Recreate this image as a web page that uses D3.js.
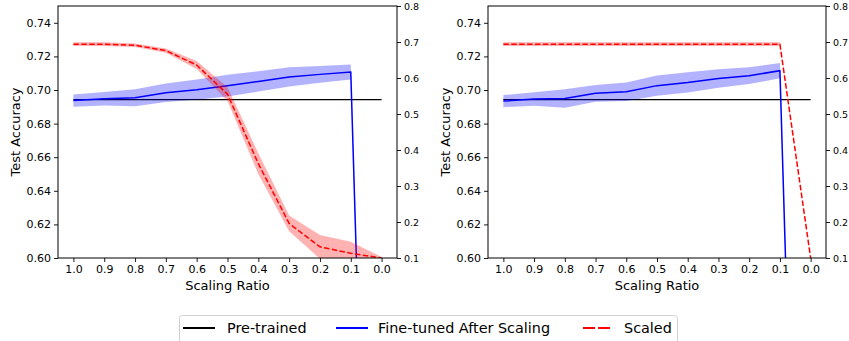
<!DOCTYPE html>
<html>
<head>
<meta charset="utf-8">
<script src="https://cdn.jsdelivr.net/npm/d3@7"></script>
<style>
  html, body { margin: 0; padding: 0; background: #fff; }
  svg { display: block; font-family: "DejaVu Sans", sans-serif; }
</style>
</head>
<body>
<svg id="chart" width="849" height="341"></svg>
<script>
// scaling ratios on the x axis
const ratios = [1.0, 0.9, 0.8, 0.7, 0.6, 0.5, 0.4, 0.3, 0.2, 0.1, 0.0];
const xTicks = [1.0, 0.9, 0.8, 0.7, 0.6, 0.5, 0.4, 0.3, 0.2, 0.1, 0.0];
const accTicks = [0.60, 0.62, 0.64, 0.66, 0.68, 0.70, 0.72, 0.74];
const scaledTicks = [0.1, 0.2, 0.3, 0.4, 0.5, 0.6, 0.7, 0.8];

// pre-trained accuracy (left axis)
const pretrained = [0.6943, 0.6943, 0.6943, 0.6943, 0.6943, 0.6943, 0.6943, 0.6943, 0.6943, 0.6943, 0.6943];

// left panel
const leftFinetunedMean = [0.6937, 0.6948, 0.6954, 0.6984, 0.7002, 0.7026, 0.7051, 0.7078, 0.7093, 0.7107, 0.1000];
const leftFinetunedStd  = [0.0036, 0.0040, 0.0050, 0.0055, 0.0060, 0.0065, 0.0060, 0.0057, 0.0050, 0.0045, 0.0020];
const leftScaledMean    = [0.694, 0.694, 0.691, 0.676, 0.636, 0.555, 0.362, 0.196, 0.131, 0.113, 0.100];
const leftScaledStd     = [0.005, 0.005, 0.005, 0.006, 0.011, 0.019, 0.029, 0.022, 0.033, 0.032, 0.003];

// right panel
const rightFinetunedMean = [0.6934, 0.6946, 0.6950, 0.6980, 0.6990, 0.7026, 0.7045, 0.7069, 0.7085, 0.7115, 0.1000];
const rightFinetunedStd  = [0.0036, 0.0040, 0.0055, 0.0050, 0.0055, 0.0060, 0.0060, 0.0055, 0.0050, 0.0045, 0.0020];
const rightScaledMean    = [0.694, 0.694, 0.694, 0.694, 0.694, 0.694, 0.694, 0.694, 0.694, 0.694, 0.100];
const rightScaledStd     = [0.005, 0.005, 0.005, 0.005, 0.005, 0.005, 0.005, 0.005, 0.005, 0.005, 0.000];

const panels = [
  { left: 58, right: 397, labelX: 15, ft: leftFinetunedMean, ftStd: leftFinetunedStd, sc: leftScaledMean, scStd: leftScaledStd },
  { left: 488, right: 826, labelX: 445, ft: rightFinetunedMean, ftStd: rightFinetunedStd, sc: rightScaledMean, scStd: rightScaledStd },
];

const plotTop = 6;
const plotBottom = 258;
const svg = d3.select('#chart');

function styleAxis(group, fontSize) {
  group.select('.domain').remove();
  group.selectAll('line').attr('stroke', '#000').attr('stroke-width', 0.9);
  group.selectAll('text').attr('fill', '#000').attr('font-size', fontSize)
    .attr('font-family', '"DejaVu Sans", sans-serif');
}

panels.forEach((p, i) => {
  const x = d3.scaleLinear().domain([1.05, -0.05]).range([p.left, p.right]);
  const yAcc = d3.scaleLinear().domain([0.60, 0.75]).range([plotBottom, plotTop]);
  const yScaled = d3.scaleLinear().domain([0.1, 0.8]).range([plotBottom, plotTop]);

  const clipId = `clip-${i}`;
  svg.append('clipPath').attr('id', clipId)
    .append('rect')
    .attr('x', p.left).attr('y', plotTop)
    .attr('width', p.right - p.left).attr('height', plotBottom - plotTop);

  const plot = svg.append('g').attr('clip-path', `url(#${clipId})`);

  // pre-trained
  plot.append('path')
    .datum(ratios.map((r, k) => [r, pretrained[k]]))
    .attr('fill', 'none').attr('stroke', '#000').attr('stroke-width', 1.2)
    .attr('d', d3.line().x(d => x(d[0])).y(d => yAcc(d[1])));

  // fine-tuned band + line
  plot.append('path')
    .datum(ratios.map((r, k) => [r, p.ft[k] - p.ftStd[k], p.ft[k] + p.ftStd[k]]))
    .attr('fill', 'rgba(0,0,255,0.3)').attr('stroke', 'none')
    .attr('d', d3.area().x(d => x(d[0])).y0(d => yAcc(d[1])).y1(d => yAcc(d[2])));
  plot.append('path')
    .datum(ratios.map((r, k) => [r, p.ft[k]]))
    .attr('fill', 'none').attr('stroke', '#0000ff').attr('stroke-width', 1.5)
    .attr('d', d3.line().x(d => x(d[0])).y(d => yAcc(d[1])));

  // scaled (twin axis) band + dashed line
  plot.append('path')
    .datum(ratios.map((r, k) => [r, p.sc[k] - p.scStd[k], p.sc[k] + p.scStd[k]]))
    .attr('fill', 'rgba(255,0,0,0.3)').attr('stroke', 'none')
    .attr('d', d3.area().x(d => x(d[0])).y0(d => yScaled(d[1])).y1(d => yScaled(d[2])));
  plot.append('path')
    .datum(ratios.map((r, k) => [r, p.sc[k]]))
    .attr('fill', 'none').attr('stroke', '#ff0000').attr('stroke-width', 1.5)
    .attr('stroke-dasharray', '5.5 2.4')
    .attr('d', d3.line().x(d => x(d[0])).y(d => yScaled(d[1])));

  // axes
  svg.append('g').attr('transform', `translate(0,${plotBottom})`)
    .call(d3.axisBottom(x).tickValues(xTicks).tickFormat(d3.format('.1f')).tickSize(4).tickPadding(3))
    .call(g => styleAxis(g, 11));
  svg.append('g').attr('transform', `translate(${p.left},0)`)
    .call(d3.axisLeft(yAcc).tickValues(accTicks).tickFormat(d3.format('.2f')).tickSize(4).tickPadding(3))
    .call(g => styleAxis(g, 11));
  svg.append('g').attr('transform', `translate(${p.right},0)`)
    .call(d3.axisRight(yScaled).tickValues(scaledTicks).tickFormat(d3.format('.1f')).tickSize(4).tickPadding(3))
    .call(g => styleAxis(g, 9.5));

  // frame
  svg.append('rect')
    .attr('x', p.left).attr('y', plotTop)
    .attr('width', p.right - p.left).attr('height', plotBottom - plotTop)
    .attr('fill', 'none').attr('stroke', '#000').attr('stroke-width', 1);

  // labels
  svg.append('text')
    .attr('x', (p.left + p.right) / 2).attr('y', 290)
    .attr('text-anchor', 'middle').attr('font-size', 13).attr('fill', '#000')
    .text('Scaling Ratio');
  svg.append('text')
    .attr('transform', `translate(${p.labelX + 5},${(plotTop + plotBottom) / 2}) rotate(-90)`)
    .attr('text-anchor', 'middle').attr('font-size', 13).attr('fill', '#000')
    .text('Test Accuracy');
});

// legend
const legendItems = [
  { label: 'Pre-trained', color: '#000', dash: null, x: 183, len: 32, tx: 227 },
  { label: 'Fine-tuned After Scaling', color: '#0000ff', dash: null, x: 336, len: 32, tx: 378 },
  { label: 'Scaled', color: '#ff0000', dash: '12 3', x: 583, len: 27, tx: 624 },
];
const legend = svg.append('g');
legend.append('rect')
  .attr('x', 179.5).attr('y', 315.5).attr('width', 498).attr('height', 30)
  .attr('rx', 3).attr('fill', '#fff').attr('stroke', '#d0d0d0').attr('stroke-width', 1);
legendItems.forEach(item => {
  legend.append('line')
    .attr('x1', item.x).attr('x2', item.x + item.len)
    .attr('y1', 328).attr('y2', 328)
    .attr('stroke', item.color).attr('stroke-width', 2)
    .attr('stroke-dasharray', item.dash);
  legend.append('text')
    .attr('x', item.tx).attr('y', 333)
    .attr('font-size', 14.4).attr('fill', '#000')
    .text(item.label);
});
</script>
</body>
</html>
